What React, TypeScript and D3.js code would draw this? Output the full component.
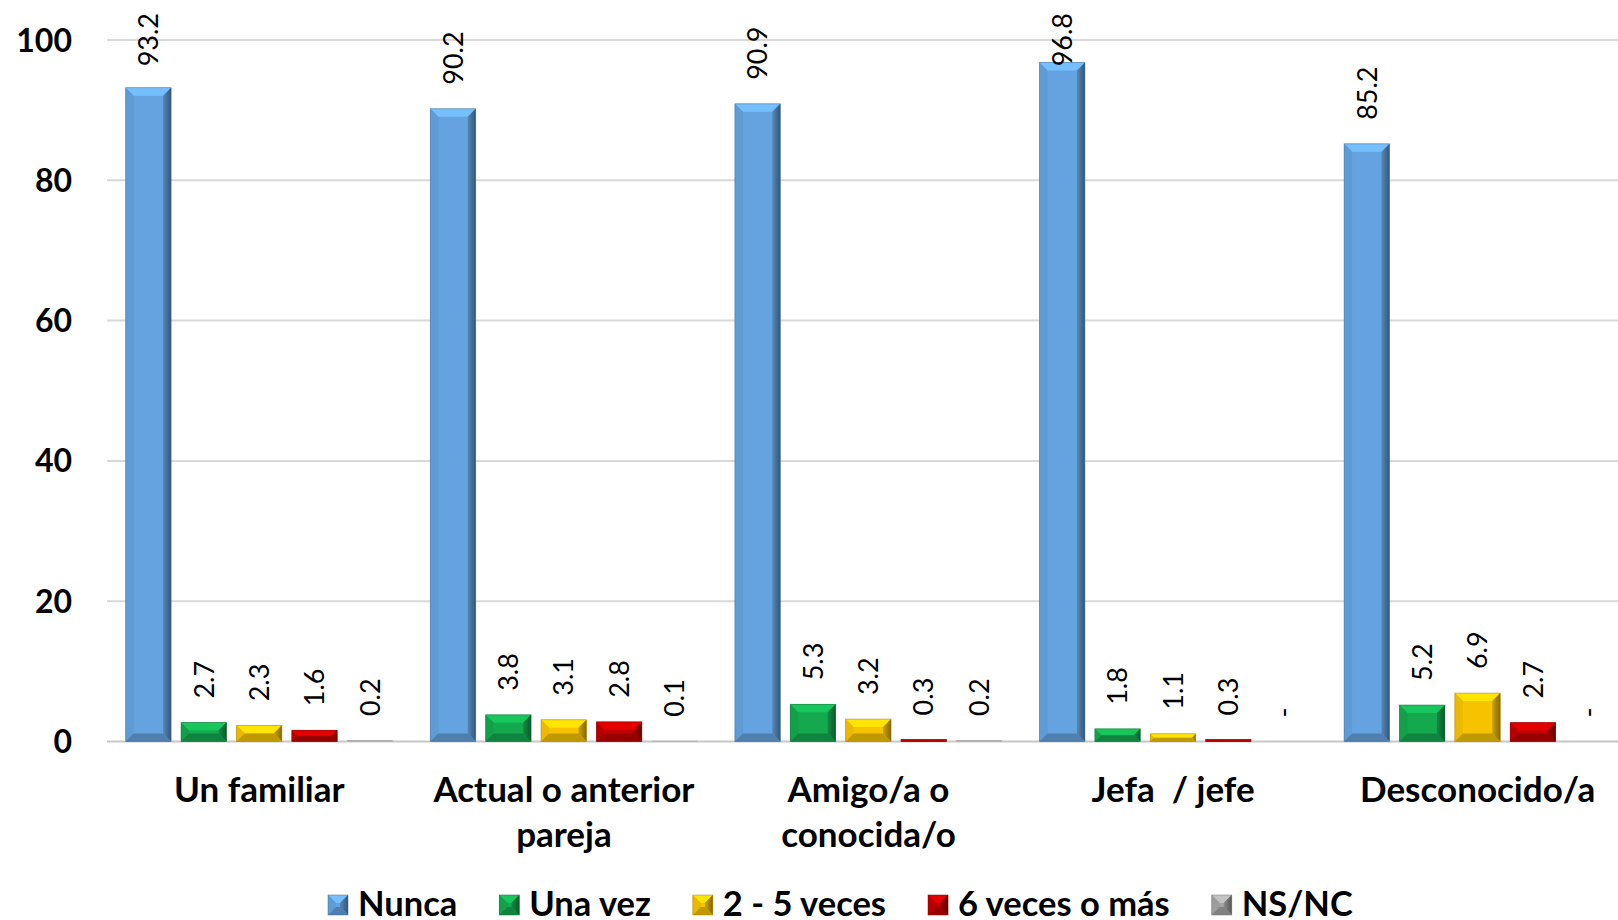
import React, { useEffect, useRef } from "react";
import * as d3 from "d3";

const categoryLines: string[][] = [
  ["Un familiar"],
  ["Actual o anterior", "pareja"],
  ["Amigo/a o", "conocida/o"],
  ["Jefa  / jefe"],
  ["Desconocido/a"],
];
const seriesNames = ["Nunca", "Una vez", "2 - 5 veces", "6 veces o más", "NS/NC"];
const nunca = [93.2, 90.2, 90.9, 96.8, 85.2];
const unaVez = [2.7, 3.8, 5.3, 1.8, 5.2];
const dosCinco = [2.3, 3.1, 3.2, 1.1, 6.9];
const seisMas = [1.6, 2.8, 0.3, 0.3, 2.7];
const nsnc: (number | null)[] = [0.2, 0.1, 0.2, null, null];
const yTicks = [0, 20, 40, 60, 80, 100];
const seriesColors = ["#64a3e0", "#14a94f", "#f7c300", "#c30000", "#a6a6a6"];

const W = 1618;
const H = 920;

export default function App() {
  const ref = useRef<SVGSVGElement>(null);

  useEffect(() => {
    const svg = d3.select(ref.current);
    svg.selectAll("*").remove();
    const series = [nunca, unaVez, dosCinco, seisMas, nsnc];
    const left = 107;
    const groupW = 304.6;
    const x0 = d3
      .scaleBand<number>()
      .domain(d3.range(categoryLines.length))
      .range([left, left + groupW * categoryLines.length])
      .padding(0);
    const x1 = d3
      .scaleBand<number>()
      .domain(d3.range(series.length))
      .range([18.7, groupW - 19])
      .paddingInner(0.18);
    const y = d3.scaleLinear().domain([0, 100]).range([741.5, 40]);

    const defs = svg.append("defs");
    seriesColors.forEach((c, i) => {
      const g = defs
        .append("linearGradient")
        .attr("id", "rg" + i)
        .attr("x1", "0")
        .attr("x2", "1")
        .attr("y1", "0")
        .attr("y2", "0");
      g.append("stop").attr("offset", "0").attr("stop-color", d3.color(c)!.darker(0.5).formatHex());
      g.append("stop").attr("offset", "1").attr("stop-color", d3.color(c)!.darker(1.8).formatHex());
    });

    // grid
    const grid = svg.append("g");
    yTicks.forEach((t) => {
      grid
        .append("line")
        .attr("x1", left)
        .attr("x2", W)
        .attr("y1", y(t))
        .attr("y2", y(t))
        .attr("stroke", t === 0 ? "#c8c8c8" : "#d9d9d9")
        .attr("stroke-width", 2);
      svg
        .append("text")
        .attr("x", 72)
        .attr("y", y(t))
        .attr("dy", "0.36em")
        .attr("text-anchor", "end")
        .attr("font-family", "Lato, 'Open Sans', sans-serif")
        .attr("font-weight", 700)
        .attr("font-size", 32)
        .attr("fill", "#000")
        .text(String(t));
    });

    function bevelBar(g: any, x: number, yTop: number, w: number, h: number, ci: number) {
      const c = seriesColors[ci];
      const col = d3.color(c)!;
      const b = Math.min(8, h / 2, w / 2);
      g.append("rect")
        .attr("x", x)
        .attr("y", yTop)
        .attr("width", w)
        .attr("height", h)
        .attr("fill", c);
      if (h < 1.5) return;
      const poly = (pts: number[][], fill: string) =>
        g.append("polygon").attr("points", pts.map((p) => p.join(",")).join(" ")).attr("fill", fill);
      poly(
        [
          [x, yTop],
          [x + w, yTop],
          [x + w - b, yTop + b],
          [x + b, yTop + b],
        ],
        col.brighter(0.45).formatHex()
      );
      poly(
        [
          [x, yTop],
          [x + b, yTop + b],
          [x + b, yTop + h - b],
          [x, yTop + h],
        ],
        col.darker(0.15).formatHex()
      );
      poly(
        [
          [x + w, yTop],
          [x + w, yTop + h],
          [x + w - b, yTop + h - b],
          [x + w - b, yTop + b],
        ],
        `url(#rg${ci})`
      );
      poly(
        [
          [x, yTop + h],
          [x + b, yTop + h - b],
          [x + w - b, yTop + h - b],
          [x + w, yTop + h],
        ],
        col.darker(0.7).formatHex()
      );
      g.append("rect")
        .attr("x", x)
        .attr("y", yTop)
        .attr("width", w)
        .attr("height", h)
        .attr("fill", "none")
        .attr("stroke", col.darker(1.2).formatHex())
        .attr("stroke-width", 0.8)
        .attr("stroke-opacity", 0.6);
    }

    const bars = svg.append("g");
    const labels = svg.append("g");
    const gap = 24;
    categoryLines.forEach((_, ci) => {
      series.forEach((s, si) => {
        const v = s[ci];
        const bx = x0(ci)! + x1(si)!;
        const bw = x1.bandwidth();
        const cx = bx + bw / 2;
        let top = y(0);
        if (v != null) {
          top = y(v);
          bevelBar(bars, bx, top, bw, y(0) - top, si);
        }
        const t = labels
          .append("text")
          .attr("font-family", "Lato, 'Open Sans', sans-serif")
          .attr("font-size", 27)
          .attr("fill", "#000")
          .attr("text-anchor", "start")
          .attr("dy", "0.36em")
          .text(v == null ? "-" : d3.format(".1f")(v));
        const len = (t.node() as SVGTextElement).getComputedTextLength();
        let start = top - gap;
        if (start - len < 13) start = 13 + len;
        t.attr("transform", `translate(${cx},${start}) rotate(-90)`);
      });
      // category label
      const lines = categoryLines[ci];
      const tx = svg
        .append("text")
        .attr("font-family", "Lato, 'Open Sans', sans-serif")
        .attr("font-weight", 700)
        .attr("font-size", 35)
        .attr("fill", "#000")
        .attr("text-anchor", "middle")
        .style("white-space", "pre");
      lines.forEach((ln, li) => {
        tx.append("tspan")
          .attr("x", x0(ci)! + groupW / 2)
          .attr("y", 802 + li * 45)
          .text(ln);
      });
    });

    // legend
    const lg = svg.append("g");
    let lx = 328;
    seriesNames.forEach((name, i) => {
      const ig = lg.append("g");
      bevelBar(ig, lx, 895, 20, 20, i);
      const t = lg
        .append("text")
        .attr("x", lx + 30)
        .attr("y", 916)
        .attr("font-family", "Lato, 'Open Sans', sans-serif")
        .attr("font-weight", 700)
        .attr("font-size", 34.5)
        .attr("fill", "#000")
        .text(name);
      const len = (t.node() as SVGTextElement).getComputedTextLength();
      lx = lx + 30 + len + 42;
    });
  }, []);

  return (
    <svg
      ref={ref}
      width={W}
      height={H}
      style={{ position: "absolute", left: 0, top: 0, background: "#fff", overflow: "hidden" }}
    />
  );
}
